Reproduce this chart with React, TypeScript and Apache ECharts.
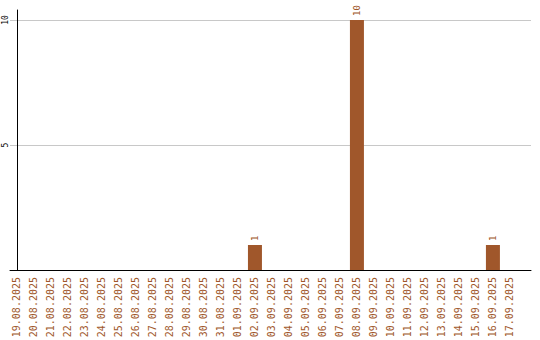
import React, { useEffect, useRef } from "react";
import * as echarts from "echarts";

const dates: string[] = [
  "19.08.2025", "20.08.2025", "21.08.2025", "22.08.2025", "23.08.2025",
  "24.08.2025", "25.08.2025", "26.08.2025", "27.08.2025", "28.08.2025",
  "29.08.2025", "30.08.2025", "31.08.2025", "01.09.2025", "02.09.2025",
  "03.09.2025", "04.09.2025", "05.09.2025", "06.09.2025", "07.09.2025",
  "08.09.2025", "09.09.2025", "10.09.2025", "11.09.2025", "12.09.2025",
  "13.09.2025", "14.09.2025", "15.09.2025", "16.09.2025", "17.09.2025",
];

const counts: number[] = [
  0, 0, 0, 0, 0, 0, 0, 0, 0, 0,
  0, 0, 0, 0, 1, 0, 0, 0, 0, 0,
  10, 0, 0, 0, 0, 0, 0, 0, 1, 0,
];

const yTicks: number[] = [5, 10];

const BAR = "#a0572b";
const MONO = "'DejaVu Sans Mono', monospace";

export default function App() {
  const ref = useRef<HTMLDivElement>(null);

  useEffect(() => {
    if (!ref.current) return;
    const chart = echarts.init(ref.current, null, { renderer: "svg" });
    const barData = counts
      .map((v, i) => [i, v])
      .filter((d) => d[1] > 0);

    chart.setOption({
      animation: false,
      backgroundColor: "#ffffff",
      grid: {
        left: 10,
        right: 9,
        top: 10,
        bottom: 70,
        containLabel: false,
        outerBoundsMode: "none",
      },
      xAxis: {
        type: "value",
        min: -0.41,
        max: 30.24,
        splitLine: { show: false },
        axisTick: { show: false },
        axisLine: { show: true, onZero: false, lineStyle: { color: "#000", width: 1 } },
        axisLabel: {
          customValues: dates.map((_, i) => i),
          formatter: (v: number) => dates[Math.round(v)] ?? "",
          rotate: 90,
          margin: 7,
          color: BAR,
          fontFamily: MONO,
          fontSize: 10,
        },
      },
      yAxis: {
        type: "value",
        min: 0,
        max: 10.4,
        interval: 5,
        axisTick: { show: false },
        axisLine: { show: true, lineStyle: { color: "#000", width: 1 } },
        splitLine: {
          show: true,
          showMinLine: false,
          showMaxLine: false,
          lineStyle: { color: "#c8c8c8", width: 1 },
        },
        axisLabel: {
          customValues: yTicks,
          rotate: 90,
          margin: 1,
          color: "#000",
          fontFamily: MONO,
          fontSize: 8,
        },
      },
      series: [
        {
          type: "bar",
          data: barData,
          barWidth: 14,
          itemStyle: { color: BAR },
          label: {
            show: true,
            position: "top",
            distance: 4,
            rotate: 90,
            align: "left",
            verticalAlign: "middle",
            color: BAR,
            fontFamily: MONO,
            fontSize: 9,
          },
        },
      ],
    });
    return () => chart.dispose();
  }, []);

  return (
    <div
      ref={ref}
      style={{ position: "fixed", left: 0, top: 0, width: 540, height: 340 }}
    />
  );
}
